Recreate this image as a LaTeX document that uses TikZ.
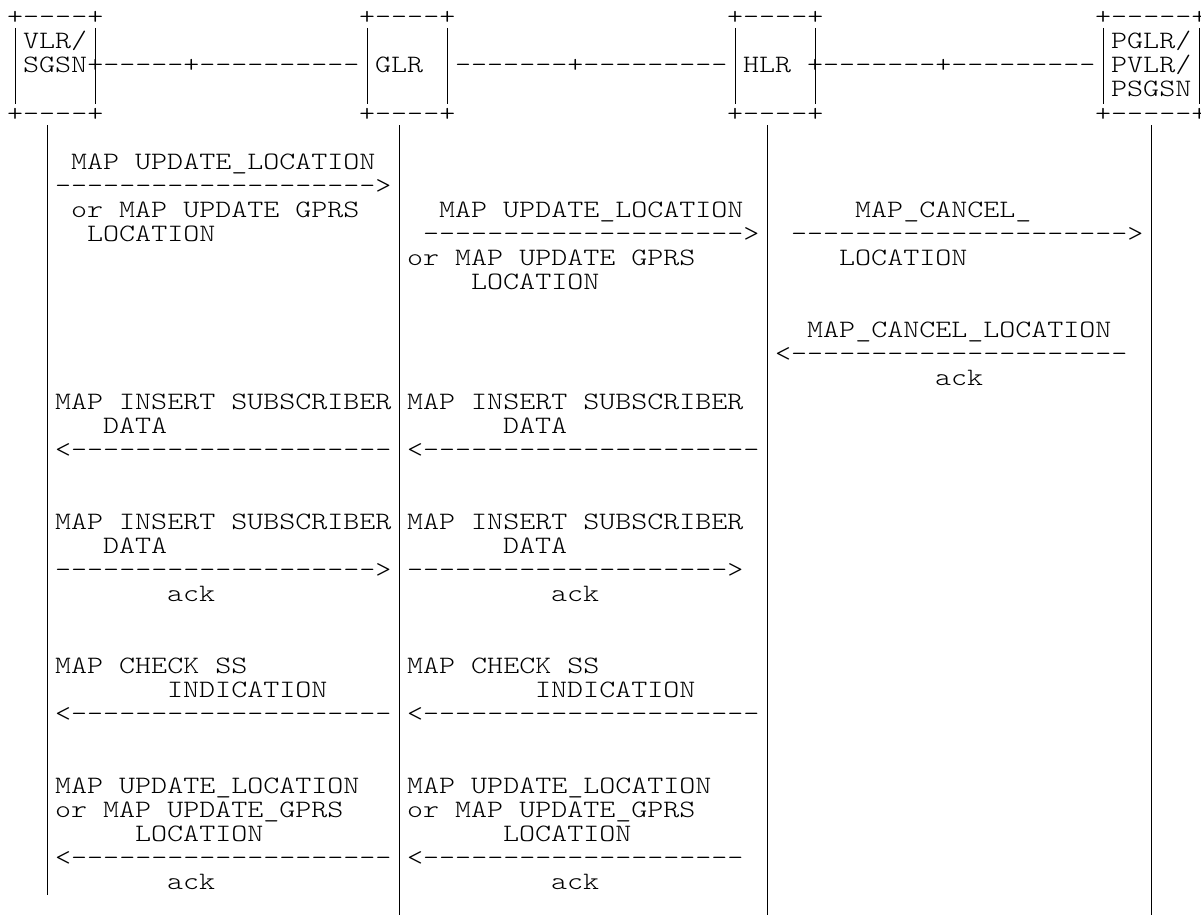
\documentclass[tikz,border=0pt]{standalone}
\usepackage{fontspec}
\setmonofont{lmmonolt10-regular}[Extension=.otf, FakeStretch=1.22]
\usetikzlibrary{positioning}

\begin{document}
\begin{tikzpicture}[x=16pt, y=-24pt,
  every node/.style={font=\ttfamily\fontsize{25}{30}\selectfont, inner sep=0pt, anchor=base west},
  side/.style={line width=0.8pt},
  life/.style={line width=0.8pt}]
\useasboundingbox (-0.4375,-1.0417) rectangle (74.625,37.0833);

% entity boxes
\node (vlrT) at (0,0) {+----+};
\node (glrT) at (22,0) {+----+};
\node (hlrT) at (45,0) {+----+};
\node (pglT) at (68,0) {+-----+};
\node (vlr1) at (1,1) {VLR/};
\node (pgl1) at (69,1) {PGLR/};
\node (vlr2) at (1,2) {SGSN+-----+----------};
\node (glr) at (23,2) {GLR};
\node (link2) at (28,2) {-------+---------};
\node (hlr) at (46,2) {HLR};
\node (link3) at (50,2) {+-------+---------};
\node (pgl2) at (69,2) {PVLR/};
\node (pgl3) at (69,3) {PSGSN};
\node (vlrB) at (0,4) {+----+};
\node (glrB) at (22,4) {+----+};
\node (hlrB) at (45,4) {+----+};
\node (pglB) at (68,4) {+-----+};

\foreach \x/\n in {0.5/a,5.5/b,22.5/c,27.5/d,45.5/e,50.5/f,68.5/g,74.5/h} {
  \coordinate (s\n1) at (\x,0.125);
  \coordinate (s\n2) at (\x,3.29);
  \draw[side] (s\n1) -- (s\n2);
}

% lifelines
\coordinate (vlrL) at (2.5,4.1667);
\coordinate (vlrE) at (2.5,36.25);
\coordinate (glrL) at (24.5,4.1667);
\coordinate (glrE) at (24.5,37.0833);
\coordinate (hlrL) at (47.5,4.1667);
\coordinate (hlrE) at (47.5,37.0833);
\coordinate (pglL) at (71.5,4.1667);
\coordinate (pglE) at (71.5,37.0833);
\draw[life] (vlrL) -- (vlrE);
\draw[life] (glrL) -- (glrE);
\draw[life] (hlrL) -- (hlrE);
\draw[life] (pglL) -- (pglE);

% update location
\node (u1a) at (4,6) {MAP UPDATE\_LOCATION};
\node (u1b) at (3,7) {-------------------->};
\node (u1c) at (4,8) {or MAP UPDATE GPRS};
\node (u1d) at (5,9) {LOCATION};
\node (u2a) at (27,8) {MAP UPDATE\_LOCATION};
\node (u2b) at (26,9) {-------------------->};
\node (u2c) at (25,10) {or MAP UPDATE GPRS};
\node (u2d) at (29,11) {LOCATION};

% cancel location
\node (c1a) at (53,8) {MAP\_CANCEL\_};
\node (c1b) at (49,9) {--------------------->};
\node (c1c) at (52,10) {LOCATION};
\node (c2a) at (50,13) {MAP\_CANCEL\_LOCATION};
\node (c2b) at (48,14) {<---------------------};
\node (c2c) at (58,15) {ack};

% insert subscriber data
\node (i1a) at (3,16) {MAP INSERT SUBSCRIBER};
\node (i1b) at (6,17) {DATA};
\node (i1c) at (3,18) {<--------------------};
\node (i2a) at (25,16) {MAP INSERT SUBSCRIBER};
\node (i2b) at (31,17) {DATA};
\node (i2c) at (25,18) {<---------------------};
\node (i3a) at (3,21) {MAP INSERT SUBSCRIBER};
\node (i3b) at (6,22) {DATA};
\node (i3c) at (3,23) {-------------------->};
\node (i3d) at (10,24) {ack};
\node (i4a) at (25,21) {MAP INSERT SUBSCRIBER};
\node (i4b) at (31,22) {DATA};
\node (i4c) at (25,23) {-------------------->};
\node (i4d) at (34,24) {ack};

% check ss
\node (k1a) at (3,27) {MAP CHECK SS};
\node (k1b) at (10,28) {INDICATION};
\node (k1c) at (3,29) {<--------------------};
\node (k2a) at (25,27) {MAP CHECK SS};
\node (k2b) at (33,28) {INDICATION};
\node (k2c) at (25,29) {<---------------------};

% update location ack
\node (a1a) at (3,32) {MAP UPDATE\_LOCATION};
\node (a1b) at (3,33) {or MAP UPDATE\_GPRS};
\node (a1c) at (8,34) {LOCATION};
\node (a1d) at (3,35) {<--------------------};
\node (a1e) at (10,36) {ack};
\node (a2a) at (25,32) {MAP UPDATE\_LOCATION};
\node (a2b) at (25,33) {or MAP UPDATE\_GPRS};
\node (a2c) at (31,34) {LOCATION};
\node (a2d) at (25,35) {<--------------------};
\node (a2e) at (34,36) {ack};
\end{tikzpicture}
\end{document}
